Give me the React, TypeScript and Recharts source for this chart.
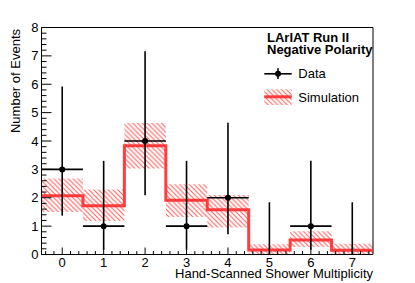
import {
  Area,
  ComposedChart,
  ErrorBar,
  Line,
  ReferenceArea,
  Scatter,
  XAxis,
  YAxis,
} from 'recharts'

// Bins of the hand-scanned multiplicity histogram
const bins = [0, 1, 2, 3, 4, 5, 6, 7]
const dataCounts = [3, 1, 4, 1, 2, 0, 1, 0]
// Poisson (Garwood) interval
const dataLow = [1.37, 0.17, 2.09, 0.17, 0.71, 0, 0.17, 0]
const dataHigh = [5.92, 3.3, 7.16, 3.3, 4.64, 1.84, 3.3, 1.84]

const simValues = [2.07, 1.72, 3.83, 1.91, 1.58, 0.16, 0.51, 0.15]
const simLow = [1.5, 1.18, 3.03, 1.32, 0.95, 0, 0.26, 0]
const simHigh = [2.68, 2.29, 4.63, 2.48, 2.1, 0.36, 0.82, 0.38]

const xTickLabels = ['0', '1', '2', '3', '4', '5', '6', '7']
const yTickLabels = ['0', '1', '2', '3', '4', '5', '6', '7', '8']

const FONT = '"Liberation Sans", Arial, Helvetica, sans-serif'
const RED = '#ff2a2a'
const HATCH = '#ff5a5a'

const W = 415
const H = 283

// step series: one point per lower bin edge, plus the last upper edge
const simSteps = bins.map((b, i) => ({ x: b - 0.5, v: simValues[i], band: [simLow[i], simHigh[i]] }))
simSteps.push({ x: bins[bins.length - 1] + 0.5, v: simValues[simValues.length - 1], band: [simLow[simLow.length - 1], simHigh[simHigh.length - 1]] })

const points = bins.map((b, i) => ({
  x: b,
  y: dataCounts[i],
  ex: 0.5,
  ey: [dataCounts[i] - dataLow[i], dataHigh[i] - dataCounts[i]],
}))
const filled = points.filter((p) => p.y > 0)
const empty = points.filter((p) => p.y === 0)

// minor ticks every 0.2 (ROOT 510 divisions)
const minorTicks = (lo: number, hi: number) => {
  const out: number[] = []
  for (let k = Math.round(lo * 5); k <= Math.round(hi * 5); k++) out.push(Math.round(k * 2) / 10)
  return out
}
const isMajor = (v: number) => Math.abs(v - Math.round(v)) < 1e-6

function XTick(props: any) {
  const { x, y, payload } = props
  const v = payload.value
  if (!isMajor(v)) return <line x1={x} x2={x} y1={y} y2={y - 3.4} stroke="#000" strokeWidth={1} />
  const label = xTickLabels[Math.round(v)]
  return (
    <g>
      <line x1={x} x2={x} y1={y} y2={y - 7} stroke="#000" strokeWidth={1} />
      {label !== undefined && (
        <text x={x} y={y + 12.2} textAnchor="middle" fontSize={13} fontFamily={FONT} fill="#000">
          {label}
        </text>
      )}
    </g>
  )
}

function YTick(props: any) {
  const { x, y, payload } = props
  const v = payload.value
  if (!isMajor(v)) return <line x1={x} x2={x + 5} y1={y} y2={y} stroke="#000" strokeWidth={1} />
  const label = yTickLabels[Math.round(v)]
  return (
    <g>
      <line x1={x} x2={x + 10} y1={y} y2={y} stroke="#000" strokeWidth={1} />
      <text x={x - 3} y={y + 4.6} textAnchor="end" fontSize={13} fontFamily={FONT} fill="#000">
        {label}
      </text>
    </g>
  )
}

const Dot = (props: any) => <circle cx={props.cx} cy={props.cy} r={3} fill="#000" />
const NoDot = () => <g />

function Overlay() {
  return (
    <svg width={W} height={H} style={{ position: 'absolute', left: 0, top: 0, pointerEvents: 'none' }}>
      <defs>
        <pattern id="hatchLegend" patternUnits="userSpaceOnUse" width={4.8} height={4.8}>
          <path d="M0,0 L4.8,4.8 M-1,3.8 L1,5.8 M3.8,-1 L5.8,1" stroke={HATCH} strokeWidth={1} />
        </pattern>
      </defs>
      <text x={19.6} y={29} transform="rotate(-90 19.6 29)" textAnchor="end" fontSize={13} fontFamily={FONT}>
        Number of Events
      </text>
      <text x={373} y={278.3} textAnchor="end" fontSize={13} fontFamily={FONT}>
        Hand-Scanned Shower Multiplicity
      </text>
      <text x={267} y={41.7} fontSize={13} fontWeight="bold" fontFamily={FONT}>
        LArIAT Run II
      </text>
      <text x={267} y={53.6} fontSize={13} fontWeight="bold" fontFamily={FONT}>
        Negative Polarity
      </text>
      <line x1={264.3} x2={291.7} y1={73.8} y2={73.8} stroke="#000" strokeWidth={1.6} />
      <line x1={278} x2={278} y1={68.3} y2={79} stroke="#000" strokeWidth={1.6} />
      <circle cx={278} cy={73.8} r={3} fill="#000" />
      <text x={298.3} y={78.4} fontSize={13} fontFamily={FONT}>
        Data
      </text>
      <rect x={264.3} y={89.3} width={27.4} height={15.7} fill="url(#hatchLegend)" />
      <line x1={264.3} x2={291.7} y1={96.8} y2={96.8} stroke={RED} strokeWidth={3} strokeOpacity={0.9} />
      <text x={298.3} y={101.6} fontSize={13} fontFamily={FONT}>
        Simulation
      </text>
    </svg>
  )
}

export default function App() {
  return (
    <div style={{ position: 'absolute', left: 0, top: 0, width: W, height: H, background: '#fff' }}>
      <ComposedChart width={W} height={H} margin={{ top: 27.5, right: 42, bottom: 0, left: 0.5 }}>
        <defs>
          <pattern id="hatch" patternUnits="userSpaceOnUse" width={4.8} height={4.8}>
            <path d="M0,0 L4.8,4.8 M-1,3.8 L1,5.8 M3.8,-1 L5.8,1" stroke={HATCH} strokeWidth={1} />
          </pattern>
        </defs>
        <XAxis
          type="number"
          dataKey="x"
          domain={[-0.5, 7.5]}
          ticks={minorTicks(-0.4, 7.4)}
          interval={0}
          allowDataOverflow
          height={28.5}
          tickSize={0}
          tickMargin={0}
          tickLine={false}
          axisLine={false}
          tick={<XTick />}
        />
        <YAxis
          type="number"
          domain={[0, 8]}
          ticks={minorTicks(0, 8)}
          interval={0}
          allowDataOverflow
          width={41}
          tickSize={0}
          tickMargin={0}
          tickLine={false}
          axisLine={false}
          tick={<YTick />}
        />
        <Area
          data={simSteps}
          dataKey="band"
          type="stepAfter"
          fill="url(#hatch)"
          fillOpacity={1}
          stroke="none"
          isAnimationActive={false}
        />
        <Line
          data={simSteps}
          dataKey="v"
          type="stepAfter"
          stroke={RED}
          strokeOpacity={0.9}
          strokeWidth={3}
          dot={false}
          activeDot={false}
          isAnimationActive={false}
        />
        <Scatter data={filled} dataKey="y" shape={<Dot />} isAnimationActive={false}>
          <ErrorBar dataKey="ey" direction="y" width={0} stroke="#000" strokeWidth={1.6} />
          <ErrorBar dataKey="ex" direction="x" width={0} stroke="#000" strokeWidth={1.6} />
        </Scatter>
        <Scatter data={empty} dataKey="y" shape={<NoDot />} isAnimationActive={false}>
          <ErrorBar dataKey="ey" direction="y" width={0} stroke="#000" strokeWidth={1.6} />
        </Scatter>
        <ReferenceArea x1={-0.5} x2={7.5} y1={0} y2={8} fill="none" stroke="#000" strokeWidth={1} ifOverflow="visible" />
      </ComposedChart>
      <Overlay />
    </div>
  )
}
